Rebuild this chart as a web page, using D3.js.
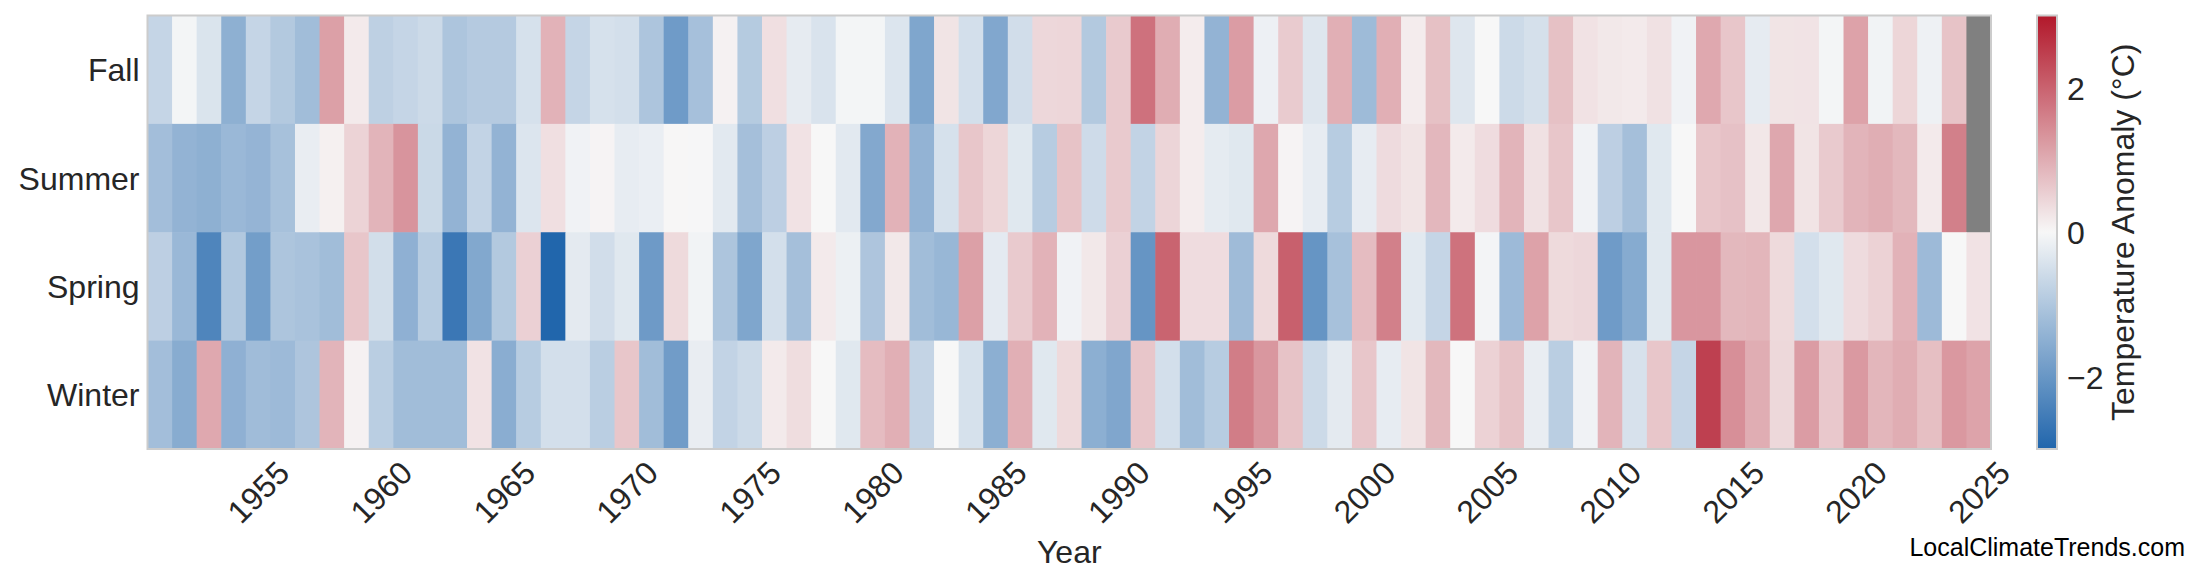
<!DOCTYPE html>
<html>
<head>
<meta charset="utf-8">
<script src="https://cdn.jsdelivr.net/npm/d3@7"></script>
<style>
  html, body { margin: 0; padding: 0; background: #fff; }
  svg { display: block; font-family: "Liberation Sans", Arial, sans-serif; }
</style>
</head>
<body>
<svg id="chart" width="2200" height="585"></svg>
<script>
// ---- data ----
const firstYear = 1951, lastYear = 2025;
const years = d3.range(firstYear, lastYear + 1);
const seasons = ["Fall", "Summer", "Spring", "Winter"];
const tickYears = [1955, 1960, 1965, 1970, 1975, 1980, 1985, 1990, 1995, 2000, 2005, 2010, 2015, 2020, 2025];
const colorTicks = [-2, 0, 2];

const fall = [
  -0.7, -0.05, -0.4, -1.47, -0.7, -0.95, -1.2, 1.17, 0.17, -0.8, -0.7, -0.6, -1.04, -0.93, -0.93,
  -0.46, 0.93, -0.7, -0.46, -0.5, -1.04, -1.9, -1.13, 0.08, -0.92, 0.32, -0.24, -0.42, -0.05, -0.05,
  -0.38, -1.68, 0.26, -0.5, -1.66, -0.53, 0.43, 0.44, -0.95, 0.6, 1.8, 1.0, 0.15, -1.4, 1.22,
  -0.14, 0.59, -0.35, 0.97, -1.25, 0.97, 0.15, 0.73, -0.35, 0, -0.6, -0.48, 0.73, 0.28, 0.2,
  0.17, 0.3, -0.1, 1.06, 0.66, -0.24, 0.26, 0.27, -0.05, 1.14, -0.08, 0.45, -0.12, 0.7, null
];
const summer = [
  -1.18, -1.4, -1.47, -1.3, -1.38, -1.12, -0.2, 0.1, 0.48, 0.9, 1.33, -0.63, -1.4, -0.74, -1.4,
  -0.38, 0.32, -0.1, 0.05, -0.22, -0.18, 0.02, -0.02, -0.3, -1.15, -0.82, 0.28, 0, -0.3, -1.63,
  0.93, -1.4, -0.46, 0.66, 0.45, -0.32, -0.9, 0.7, -0.57, 0.6, -0.74, 0.46, 0.15, -0.25, -0.32,
  1.08, 0.05, -0.22, -0.9, -0.22, 0.37, 0.26, 0.86, 0.18, 0.36, 0.9, 0.3, 0.66, -0.1, -0.82,
  -1.15, -0.32, 0, 0.66, 0.72, 0.22, 1.08, 0.26, 0.6, 0.9, 0.98, 0.85, 0.18, 1.6, null
];
const spring = [
  -0.82, -1.3, -2.35, -0.98, -1.85, -1.04, -1.1, -1.2, 0.66, -0.52, -1.46, -0.9, -2.64, -1.64, -0.95,
  0.52, -3.0, -0.27, -0.53, -0.32, -1.92, 0.39, -0.08, -1.04, -1.68, -0.5, -1.15, 0.17, -0.15, -1.03,
  0.2, -1.2, -1.33, 1.17, -0.26, 0.6, 0.93, -0.1, 0.2, 0.52, -2.03, 1.98, 0.36, 0.36, -1.24,
  0.39, 2.03, -2.03, -1.12, 0.8, 1.6, -0.3, -0.7, 1.79, -0.06, -1.26, 1.14, 0.39, 0.43, -1.9,
  -1.58, -0.32, 1.3, 1.3, 0.85, 0.88, 0.39, -0.5, -0.32, 0.37, 0.5, 0.93, -1.26, 0, 0.28
];
const winter = [
  -1.18, -1.56, 1.06, -1.46, -1.22, -1.26, -1.03, 0.9, 0.08, -0.85, -1.2, -1.2, -1.2, 0.28, -1.53,
  -0.9, -0.5, -0.5, -0.85, 0.66, -1.2, -1.88, -0.2, -0.74, -0.6, 0.18, 0.35, 0, -0.32, 0.8,
  0.97, -0.72, 0, -0.46, -1.5, 0.97, -0.32, 0.39, -1.5, -1.67, 0.66, -0.5, -1.2, -0.9, 1.64,
  1.29, 0.7, -0.6, -0.27, 0.66, -0.22, 0.26, 0.85, 0, 0.5, 0.7, -0.2, -0.85, -0.1, 0.9,
  -0.45, 0.66, -0.7, 2.46, 1.4, 1.0, 0.42, 1.22, 0.63, 1.27, 0.88, 1.0, 0.76, 1.28, 1.13
];
const seriesBySeason = { Fall: fall, Summer: summer, Spring: spring, Winter: winter };

// ---- layout ----
const svg = d3.select("#chart");
const plot = { left: 147.5, right: 1991, top: 15.5, bottom: 449 };
const cbar = { left: 2037, right: 2057 };
const textColor = "#262626";
const fontSize = 32;

const x = d3.scaleBand().domain(years).range([plot.left, plot.right]).padding(0);
const y = d3.scaleBand().domain(seasons).range([plot.top, plot.bottom]).padding(0);
const color = d3.scaleLinear().domain([-3, 0, 3]).range(["#2166ac", "#f7f7f7", "#b2182b"]).clamp(true);
const missingColor = "#808080";

const cells = [];
seasons.forEach(s => {
  seriesBySeason[s].forEach((v, i) => cells.push({ season: s, year: years[i], value: v }));
});

svg.append("g")
  .selectAll("rect")
  .data(cells)
  .join("rect")
  .attr("x", d => x(d.year))
  .attr("y", d => y(d.season))
  .attr("width", x.bandwidth() + 0.6)
  .attr("height", y.bandwidth() + 0.6)
  .attr("fill", d => d.value === null ? missingColor : color(d.value));

// plot frame
svg.append("rect")
  .attr("x", plot.left).attr("y", plot.top)
  .attr("width", plot.right - plot.left).attr("height", plot.bottom - plot.top)
  .attr("fill", "none").attr("stroke", "#cccccc").attr("stroke-width", 2);

// x axis
const xAxis = svg.append("g")
  .attr("transform", `translate(0,${plot.bottom})`)
  .call(d3.axisBottom(x).tickValues(tickYears).tickSize(0).tickFormat(d3.format("d")));
xAxis.select(".domain").remove();
xAxis.selectAll(".tick text")
  .attr("font-family", "Liberation Sans, Arial, sans-serif")
  .attr("font-size", fontSize)
  .attr("fill", textColor)
  .attr("text-anchor", "middle")
  .attr("y", 43)
  .attr("dy", "0.36em")
  .attr("transform", "rotate(-45 0 43)");

// y axis
const yAxis = svg.append("g")
  .attr("transform", `translate(${plot.left},0)`)
  .call(d3.axisLeft(y).tickSize(0).tickPadding(8));
yAxis.select(".domain").remove();
yAxis.selectAll(".tick text")
  .attr("font-family", "Liberation Sans, Arial, sans-serif")
  .attr("font-size", fontSize)
  .attr("fill", textColor)
  .attr("dy", "0.36em");

// x axis title
svg.append("text")
  .attr("x", (plot.left + plot.right) / 2)
  .attr("y", 563)
  .attr("text-anchor", "middle")
  .attr("font-size", fontSize)
  .attr("fill", textColor)
  .text("Year");

// colorbar
const defs = svg.append("defs");
const grad = defs.append("linearGradient")
  .attr("id", "cbgrad").attr("x1", 0).attr("y1", 1).attr("x2", 0).attr("y2", 0);
d3.range(0, 1.0001, 0.05).forEach(t => {
  grad.append("stop").attr("offset", t).attr("stop-color", color(-3 + 6 * t));
});
svg.append("rect")
  .attr("x", cbar.left).attr("y", plot.top)
  .attr("width", cbar.right - cbar.left).attr("height", plot.bottom - plot.top)
  .attr("fill", "url(#cbgrad)")
  .attr("stroke", "#cccccc").attr("stroke-width", 2);

const cScale = d3.scaleLinear().domain([-3, 3]).range([plot.bottom, plot.top]);
const cAxis = svg.append("g")
  .attr("transform", `translate(${cbar.right},0)`)
  .call(d3.axisRight(cScale).tickValues(colorTicks).tickSize(0).tickPadding(10)
    .tickFormat(d => d < 0 ? "\u2212" + Math.abs(d) : String(d)));
cAxis.select(".domain").remove();
cAxis.selectAll(".tick text")
  .attr("font-family", "Liberation Sans, Arial, sans-serif")
  .attr("font-size", fontSize)
  .attr("fill", textColor)
  .attr("dy", "0.36em");

svg.append("text")
  .attr("transform", `translate(2134,${(plot.top + plot.bottom) / 2}) rotate(-90)`)
  .attr("text-anchor", "middle")
  .attr("font-size", fontSize)
  .attr("fill", textColor)
  .text("Temperature Anomaly (°C)");

// watermark
svg.append("text")
  .attr("x", 2185).attr("y", 556)
  .attr("text-anchor", "end")
  .attr("font-size", 25)
  .attr("fill", "#000")
  .text("LocalClimateTrends.com");
</script>
</body>
</html>
